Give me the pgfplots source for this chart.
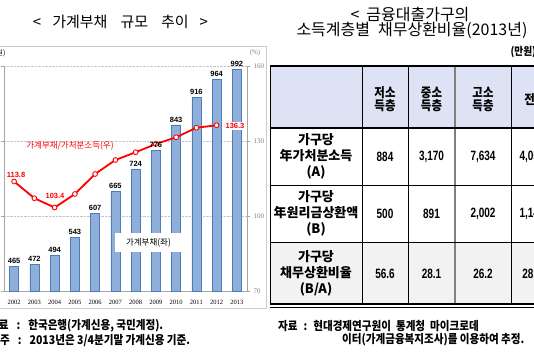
\documentclass[border=0pt]{standalone}
\usepackage{pgfplots}
\pgfplotsset{compat=1.18}
\usepackage{fontspec}
\setmainfont{Liberation Sans}
\newfontfamily\kr{Noto Sans CJK KR}
\newfontfamily\krn{Noto Sans CJK KR}[FakeStretch=0.88]
\newfontfamily\numf{Liberation Sans}[FakeStretch=0.74]
\newfontfamily\serf{Liberation Serif}
\definecolor{barfill}{HTML}{8FAEDA}
\definecolor{baredge}{HTML}{4A7EBB}
\definecolor{hdr}{HTML}{DDE2F4}
\definecolor{rowc}{HTML}{F2F2F2}
\definecolor{axgray}{HTML}{A6A6A6}
\definecolor{lblred}{HTML}{FF0000}
\begin{document}
\begin{tikzpicture}[x=1pt,y=1pt]
\useasboundingbox (0,0) rectangle (534,354);
\clip (0,0) rectangle (534,354);
\fill[white] (0,0) rectangle (534,354);
\draw[gray!40, line width=0.7pt] (-2,46) rectangle (266,308);

\begin{axis}[
  at={(4pt,63pt)}, anchor=south west, scale only axis,
  width=243pt, height=225pt,
  /pgf/number format/assume math mode=true,
  xmin=2001.5, xmax=2013.5, ymin=400, ymax=1000,
  axis y line*=left, axis x line*=bottom,
  axis line style={axgray, line width=0.6pt},
  ytick={400,600,800,1000}, yticklabels={},
  tick align=outside, major tick length=3pt,
  y tick style={axgray},
  xtick={2002,2003,...,2013},
  xticklabels={2002,2003,2004,2005,2006,2007,2008,2009,2010,2011,2012,2013},
  xtick style={draw=none},
  x tick label style={font=\serf\fontsize{6.5}{7}\selectfont, yshift=-3pt},
  ymajorgrids, grid style={densely dotted, gray!45, line width=0.5pt},
]
\addplot[ybar, bar width=9pt, fill=barfill, draw=baredge, line width=0.6pt]
  coordinates {(2002,465) (2003,472) (2004,494) (2005,543) (2006,607) (2007,665) (2008,724) (2009,776) (2010,843) (2011,916) (2012,964) (2013,992)};
\end{axis}

\begin{axis}[
  at={(4pt,63pt)}, anchor=south west, scale only axis,
  width=243pt, height=225pt,
  /pgf/number format/assume math mode=true,
  xmin=2001.5, xmax=2013.5, ymin=70, ymax=160,
  axis y line*=right, axis x line=none,
  axis line style={axgray, line width=0.6pt},
  ytick={70,100,130,160},
  tick align=outside, major tick length=3pt,
  y tick style={axgray},
  y tick label style={font=\serf\fontsize{7}{8}\selectfont, text=gray},
  clip=false,
]
\addplot[lblred, line width=1.8pt, mark=*, mark size=2.4pt, mark options={fill=white, draw=lblred, line width=0.9pt}]
 coordinates {(2002,113.8) (2003,107.1) (2004,103.4) (2005,108.8) (2006,116.8) (2007,122.4) (2008,125.5) (2009,128.8) (2010,131.5) (2011,135.3) (2012,136.3)};
\end{axis}

% bar value labels on top of the line
\begin{axis}[
  at={(4pt,63pt)}, anchor=south west, scale only axis,
  width=243pt, height=225pt, hide axis, clip=false,
  /pgf/number format/assume math mode=true,
  xmin=2001.5, xmax=2013.5, ymin=400, ymax=1000,
]
\addplot[draw=none, mark=none, nodes near coords,
  every node near coord/.append style={font=\bfseries\fontsize{7.5}{9}\selectfont, text=black, anchor=south, inner sep=2.5pt}]
  coordinates {(2002,465) (2003,472) (2004,494) (2005,543) (2006,607) (2007,665) (2008,724) (2009,776) (2010,843) (2011,916) (2012,964) (2013,992)};
\end{axis}

% chart texts
\node[font=\kr\fontsize{15}{16}\selectfont] at (120.5,332) {<\hspace{11pt}가계부채\hspace{13pt}규모\hspace{13pt}추이\hspace{11pt}>};
\node[font=\serf\fontsize{7}{8}\selectfont, text=gray] at (255,301) {(\%)};
\node[font=\kr\fontsize{7}{8}\selectfont, anchor=east] at (9,301) {(십억원)};
\node[font=\kr\fontsize{8.5}{9}\selectfont, text=lblred] at (70,208) {가계부채/가처분소득(우)};
\node[font=\kr\fontsize{8.5}{9}\selectfont, fill=white, minimum width=67pt, minimum height=19pt, inner sep=1pt] at (148.5,111.5) {가계부채(좌)};
\node[font=\bfseries\fontsize{7.5}{9}\selectfont, text=lblred] at (16,179) {113.8};
\node[font=\bfseries\fontsize{7.5}{9}\selectfont, text=lblred] at (55,158) {103.4};
\node[font=\bfseries\fontsize{7.5}{9}\selectfont, text=lblred, fill=white, inner sep=1.5pt] at (235,228) {136.3};

% notes left
\node[font=\krn\bfseries\fontsize{12}{13}\selectfont, anchor=west, inner sep=0pt] at (-11,28) {자료\hspace{8pt}:\hspace{8pt}한국은행(가계신용, 국민계정).};
\node[font=\krn\bfseries\fontsize{12}{13}\selectfont, anchor=west, inner sep=0pt] at (0,13) {주\hspace{8pt}:\hspace{8pt}2013년은 3/4분기말 가계신용 기준.};

% table title
\node[font=\kr\fontsize{16}{17}\selectfont] at (410,340) {<\hspace{7pt}금융대출가구의};
\node[font=\kr\fontsize{16}{17}\selectfont] at (412,324) {소득계층별\hspace{8pt}채무상환비율(2013년)};
\node[font=\krn\bfseries\fontsize{11}{12}\selectfont, anchor=west] at (507,302) {(만원)};

% table fills
\fill[hdr] (270,226) rectangle (560,288);
\fill[rowc] (270,49) rectangle (560,112);
% vertical lines
\draw[black, line width=0.6pt] (270,49) -- (270,288);
\draw[black, line width=0.6pt] (362,49) -- (362,288);
\draw[black, line width=0.6pt] (408,49) -- (408,288);
\draw[gray, line width=1.2pt] (455,49) -- (455,288);
\draw[black, line width=0.6pt] (511,49) -- (511,288);
% horizontal lines
\draw[black, line width=1.8pt] (270,288) -- (560,288);
\draw[black, line width=1.2pt] (270,226) -- (560,226);
\draw[black, line width=0.7pt] (270,169) -- (560,169);
\draw[black, line width=0.7pt] (270,112) -- (560,112);
\draw[black, line width=1.6pt] (270,50) -- (560,50);
\draw[black, line width=0.6pt] (270,46.5) -- (560,46.5);

% header
\begin{scope}[every node/.style={font=\krn\bfseries\fontsize{13}{13}\selectfont, align=center}]
\node at (385,255) {저소\\득층};
\node at (431.5,255) {중소\\득층};
\node at (483,255) {고소\\득층};
\node at (535,254) {전체};
\end{scope}
% row labels
\begin{scope}[every node/.style={font=\kr\bfseries\fontsize{13}{16}\selectfont, align=center}]
\node at (316,198) {가구당\\年가처분소득\\(A)};
\node at (316,141) {가구당\\年원리금상환액\\(B)};
\node at (316,81) {가구당\\채무상환비율\\(B/A)};
\end{scope}
% values
\begin{scope}[every node/.style={font=\numf\bfseries\fontsize{13.5}{15}\selectfont}]
\node at (385,197) {884};
\node at (431.5,197) {3,170};
\node at (483,197) {7,634};
\node at (532,197) {4,058};
\node at (385,140) {500};
\node at (431.5,140) {891};
\node at (483,140) {2,002};
\node at (532,140) {1,148};
\node at (385,80) {56.6};
\node at (431.5,80) {28.1};
\node at (483,80) {26.2};
\node at (532,80) {28.3};
\end{scope}

% notes right
\node[font=\krn\bfseries\fontsize{12}{13}\selectfont, anchor=west, inner sep=0pt] at (278,28) {자료\hspace{6pt}:\hspace{6pt}현대경제연구원이\hspace{5pt}통계청\hspace{5pt}마이크로데};
\node[font=\krn\bfseries\fontsize{12}{13}\selectfont, anchor=west, inner sep=0pt] at (342,14) {이터(가계금융복지조사)를 이용하여 추정.};
\end{tikzpicture}
\end{document}
